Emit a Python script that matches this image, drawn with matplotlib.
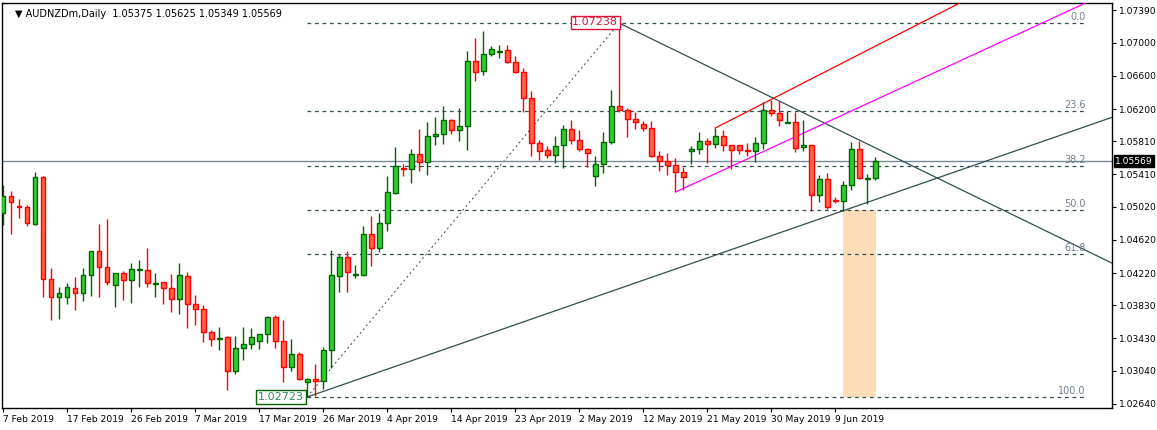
import matplotlib
matplotlib.use('Agg')
import matplotlib.pyplot as plt
import numpy as np

# daily OHLC (AUDNZDm)
opens = [1.0495, 1.0515, 1.0503, 1.0502, 1.0481, 1.0538, 1.0415, 1.0393, 1.0393, 1.0404,
         1.0398, 1.0420, 1.0449, 1.0429, 1.0407, 1.0422, 1.0414, 1.0426, 1.0426, 1.0409,
         1.0411, 1.0404, 1.0391, 1.0418, 1.0385, 1.0379, 1.0351, 1.0342, 1.0345, 1.0304,
         1.0332, 1.0336, 1.0340, 1.0348, 1.0369, 1.0340, 1.0308, 1.0324, 1.0290, 1.0294,
         1.0292, 1.0329, 1.0418, 1.0441, 1.0420, 1.0420, 1.0469, 1.0452, 1.0482, 1.0519,
         1.0549, 1.0548, 1.0566, 1.0556, 1.0587, 1.0590, 1.0607, 1.0595, 1.0600, 1.0678,
         1.0666, 1.0686, 1.0689, 1.0691, 1.0677, 1.0665, 1.0633, 1.0579, 1.0571, 1.0565,
         1.0577, 1.0596, 1.0583, 1.0572, 1.0539, 1.0554, 1.0580, 1.0624, 1.0619, 1.0608,
         1.0602, 1.0597, 1.0563, 1.0557, 1.0552, 1.0544, 1.0569, 1.0572, 1.0581, 1.0578,
         1.0587, 1.0577, 1.0576, 1.0571, 1.0569, 1.0579, 1.0619, 1.0615, 1.0603, 1.0604,
         1.0574, 1.0577, 1.0516, 1.0536, 1.0510, 1.0509, 1.0528, 1.0572, 1.0536, 1.0537]
highs = [1.0528, 1.0521, 1.0511, 1.0504, 1.0544, 1.0539, 1.0428, 1.0405, 1.0410, 1.0417,
         1.0428, 1.0449, 1.0481, 1.0487, 1.0422, 1.0424, 1.0434, 1.0438, 1.0452, 1.0422,
         1.0411, 1.0421, 1.0434, 1.0423, 1.0396, 1.0383, 1.0353, 1.0357, 1.0346, 1.0346,
         1.0357, 1.0356, 1.0348, 1.0370, 1.0371, 1.0365, 1.0342, 1.0327, 1.0295, 1.0312,
         1.0333, 1.0450, 1.0445, 1.0449, 1.0432, 1.0479, 1.0491, 1.0494, 1.0539, 1.0574,
         1.0554, 1.0572, 1.0596, 1.0604, 1.0610, 1.0624, 1.0608, 1.0621, 1.0690, 1.0706,
         1.0714, 1.0696, 1.0697, 1.0697, 1.0684, 1.0670, 1.0642, 1.0583, 1.0575, 1.0587,
         1.0601, 1.0607, 1.0595, 1.0573, 1.0563, 1.0592, 1.0643, 1.07238, 1.0621, 1.0616,
         1.0606, 1.0606, 1.0569, 1.0567, 1.0561, 1.0550, 1.0575, 1.0592, 1.0585, 1.0597,
         1.0595, 1.0577, 1.0576, 1.0579, 1.0586, 1.0629, 1.0631, 1.0630, 1.0618, 1.0616,
         1.0607, 1.0577, 1.0540, 1.0543, 1.0514, 1.0533, 1.0580, 1.0581, 1.0541, 1.05625]
lows = [1.0480, 1.0469, 1.0489, 1.0479, 1.0480, 1.0393, 1.0365, 1.0366, 1.0385, 1.0377,
        1.0388, 1.0394, 1.0393, 1.0408, 1.0381, 1.0390, 1.0386, 1.0405, 1.0405, 1.0393,
        1.0385, 1.0375, 1.0373, 1.0356, 1.0359, 1.0339, 1.0334, 1.0329, 1.0281, 1.0300,
        1.0317, 1.0330, 1.0330, 1.0338, 1.0332, 1.0291, 1.0304, 1.0293, 1.02723, 1.0274,
        1.0282, 1.0307, 1.0399, 1.0399, 1.0416, 1.0420, 1.0431, 1.0447, 1.0473, 1.0517,
        1.0539, 1.0531, 1.0545, 1.0540, 1.0577, 1.0578, 1.0590, 1.0581, 1.0571, 1.0654,
        1.0661, 1.0684, 1.0682, 1.0676, 1.0664, 1.0616, 1.0563, 1.0558, 1.0561, 1.0555,
        1.0549, 1.0578, 1.0569, 1.0550, 1.0527, 1.0543, 1.0578, 1.0617, 1.0586, 1.0596,
        1.0594, 1.0562, 1.0545, 1.0540, 1.0520, 1.0522, 1.0554, 1.0566, 1.0555, 1.0573,
        1.0569, 1.0548, 1.0566, 1.0563, 1.0556, 1.0572, 1.0611, 1.0600, 1.0603, 1.0568,
        1.0569, 1.0497, 1.0508, 1.0499, 1.0507, 1.0497, 1.0522, 1.0536, 1.0505, 1.05349]
closes = [1.0515, 1.0508, 1.0502, 1.0482, 1.0538, 1.0415, 1.0393, 1.0398, 1.0405, 1.0398,
          1.0420, 1.0449, 1.0429, 1.0411, 1.0422, 1.0414, 1.0427, 1.0427, 1.0410, 1.0410,
          1.0404, 1.0391, 1.0420, 1.0385, 1.0379, 1.0351, 1.0342, 1.0344, 1.0304, 1.0332,
          1.0336, 1.0345, 1.0348, 1.0369, 1.0340, 1.0308, 1.0324, 1.0294, 1.0294, 1.0292,
          1.0329, 1.0420, 1.0441, 1.0423, 1.0421, 1.0469, 1.0452, 1.0482, 1.0520, 1.0551,
          1.0548, 1.0566, 1.0556, 1.0587, 1.0590, 1.0607, 1.0595, 1.0600, 1.0678, 1.0665,
          1.0686, 1.0692, 1.0690, 1.0677, 1.0665, 1.0633, 1.0579, 1.0569, 1.0565, 1.0575,
          1.0596, 1.0583, 1.0572, 1.0567, 1.0554, 1.0580, 1.0624, 1.0619, 1.0608, 1.0604,
          1.0597, 1.0563, 1.0557, 1.0552, 1.0544, 1.0538, 1.0572, 1.0581, 1.0578, 1.0587,
          1.0577, 1.0571, 1.0571, 1.0569, 1.0579, 1.0619, 1.0615, 1.0607, 1.0604, 1.0573,
          1.0577, 1.0516, 1.0536, 1.0502, 1.0509, 1.0528, 1.0572, 1.0537, 1.0537, 1.05569]

date_labels = ['7 Feb 2019', '17 Feb 2019', '26 Feb 2019', '7 Mar 2019', '17 Mar 2019',
               '26 Mar 2019', '4 Apr 2019', '14 Apr 2019', '23 Apr 2019', '2 May 2019',
               '12 May 2019', '21 May 2019', '30 May 2019', '9 Jun 2019']
date_bars = [0, 8, 16, 24, 32, 40, 48, 56, 64, 72, 80, 88, 96, 104]

price_ticks = [1.07390, 1.07000, 1.06600, 1.06200, 1.05810, 1.05410, 1.05020,
               1.04620, 1.04220, 1.03830, 1.03430, 1.03040, 1.02640]

fib_low, fib_high = 1.02723, 1.07238
fib_low_bar, fib_high_bar = 38, 77
fib_ratios = [0.0, 23.6, 38.2, 50.0, 61.8, 100.0]
last_price = 1.05569

# trend lines: (bar, price) pairs
up_line = [(38, 1.02723), (138.6, 1.0610)]
down_line = [(77, 1.07238), (138.6, 1.0434)]
red_line = [(89, 1.0597), (120.3, 1.07516)]
magenta_line = [(84.1, 1.0520), (135.3, 1.0748)]
zone_bars = (105, 109.1)

W, H = 1157, 430
fig = plt.figure(figsize=(W / 100, H / 100), dpi=100)
ax = fig.add_axes([2 / W, 1 - 408 / H, 1110 / W, 405 / H])
ax.set_xlim(-0.125, 138.6)
ax.set_ylim(1.02591, 1.0748)

n = len(opens)
x = np.arange(n)
o, h, l, c = map(np.array, (opens, highs, lows, closes))
up = c >= o

# peach zone under the last bars
ax.fill_between(zone_bars, fib_low, fib_high - 0.5 * (fib_high - fib_low),
                color='#FDDCB8', zorder=1, lw=0)

# fibo levels
rng = fib_high - fib_low
for r in fib_ratios:
    lvl = fib_high - r / 100 * rng
    ax.plot([fib_low_bar, 135.5], [lvl, lvl], ls=(0, (3, 3)), color='#2F4F4F', lw=0.9, zorder=2)
    ax.text(135.3, lvl + 0.00012, f'{r:.1f}', ha='right', va='bottom', fontsize=7,
            color='#708090', zorder=5)
ax.plot([fib_low_bar, fib_high_bar], [fib_low, fib_high], ls=(0, (2, 3)),
        color='#2F4F4F', lw=0.7, zorder=2)

ax.axhline(last_price, color='#778899', lw=1, zorder=2)

for pts, col in [(up_line, '#2F4F4F'), (down_line, '#2F4F4F'),
                 (red_line, 'red'), (magenta_line, 'magenta')]:
    (x0, y0), (x1, y1) = pts
    ax.plot([x0, x1], [y0, y1], color=col, lw=0.9, zorder=3)

# candles
wick_col = np.where(up, '#006400', 'red')
ax.vlines(x, l, h, colors=wick_col, lw=1, zorder=4)
ax.bar(x[up], c[up] - o[up], bottom=o[up], width=0.62, color='#32CD32',
       edgecolor='#006400', lw=1, zorder=5)
ax.bar(x[~up], o[~up] - c[~up], bottom=c[~up], width=0.62, color='#FF6347',
       edgecolor='red', lw=1, zorder=5)

# price labels of the fib anchors
ax.text(fib_low_bar - 0.4, fib_low, '1.02723', ha='right', va='center', fontsize=8,
        color='#2E8B57', zorder=6,
        bbox=dict(boxstyle='square,pad=0.15', fc='white', ec='#006400', lw=1))
ax.text(fib_high_bar - 0.1, fib_high + 0.0001, '1.07238', ha='right', va='center', fontsize=8,
        color='#DC143C', zorder=6,
        bbox=dict(boxstyle='square,pad=0.15', fc='white', ec='#DC143C', lw=1))

ax.text(0.012, 0.985, '▼ AUDNZDm,Daily  1.05375 1.05625 1.05349 1.05569',
        transform=ax.transAxes, ha='left', va='top', fontsize=7, color='black')

# axes styling like the terminal
ax.yaxis.tick_right()
ax.set_yticks(price_ticks)
ax.set_yticklabels([f'{p:.5f}' for p in price_ticks], fontsize=6.6)
ax.tick_params(axis='y', length=3, pad=2)
ax.set_xticks(date_bars)
ax.set_xticklabels(date_labels, fontsize=6.6, ha='left')
ax.tick_params(axis='x', length=3, pad=2)
for s in ax.spines.values():
    s.set_color('black')
    s.set_linewidth(1)

ax.text(1.003, last_price, '1.05569', transform=ax.get_yaxis_transform(), ha='left',
        va='center', fontsize=6.6, color='white', zorder=7,
        bbox=dict(boxstyle='square,pad=0.15', fc='black', ec='black'))

fig.savefig('out.png', dpi=100)
